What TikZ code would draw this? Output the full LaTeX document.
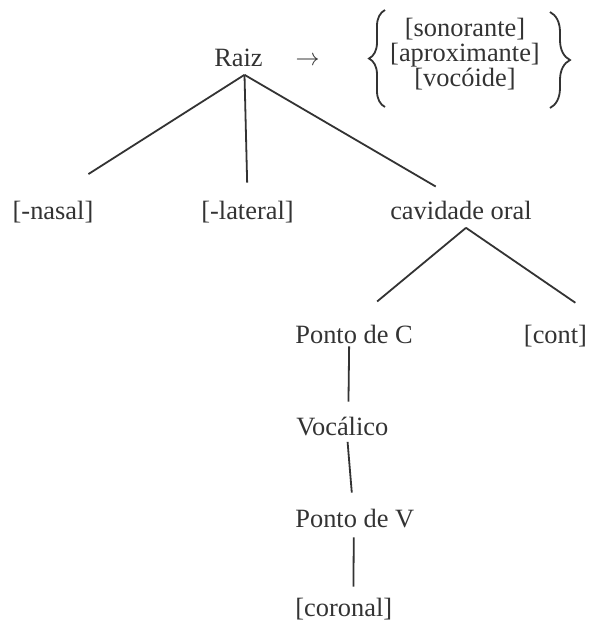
\documentclass[tikz,border=0pt]{standalone}
\usepackage{fontspec}
\setmainfont{Liberation Serif}
\usetikzlibrary{decorations.pathreplacing}
\definecolor{tinta}{HTML}{333333}

\begin{document}
\begin{tikzpicture}[x=0.5pt, y=-0.5pt,
    traco/.style={line width=0.9pt, tinta},
    rotulo/.style={inner xsep=0pt, inner ysep=2pt, text height=9pt, text depth=2.2pt,
      font=\fontsize{13.2}{15}\selectfont, text=tinta}]
  \useasboundingbox (0,0) rectangle (589,623);

  % Raiz e traços
  \node[rotulo, anchor=base] (raiz) at (238.5,66) {Raiz};
  \node[rotulo, anchor=base] (seta) at (307.5,65) {$\rightarrow$};
  \node[align=center, inner sep=0pt, font=\fontsize{13.2}{12.5}\selectfont, text=tinta] (tracos) at (465,54)
    {[sonorante]\\{}[aproximante]\\{}[vocóide]};
  \draw[traco, decorate, decoration={brace, amplitude=8pt}] (385,107) -- (385,10);
  \draw[traco, decorate, decoration={brace, amplitude=10pt}] (550,12) -- (550,108);

  % Nível 2
  \node[rotulo, anchor=base] (nasal) at (53,219) {[-nasal]};
  \node[rotulo, anchor=base] (lateral) at (247.5,219) {[-lateral]};
  \node[rotulo, anchor=base] (cavidade) at (461,219) {cavidade oral};

  % Cavidade oral
  \node[rotulo, anchor=base west] (pontoC) at (295,343) {Ponto de C};
  \node[rotulo, anchor=base] (cont) at (555.5,343) {[cont]};
  \node[rotulo, anchor=base west] (vocalico) at (296,435) {Vocálico};
  \node[rotulo, anchor=base west] (pontoV) at (295,527) {Ponto de V};
  \node[rotulo, anchor=base west] (coronal) at (295,616) {[coronal]};

  % Linhas
  \draw[traco, shorten >=21pt] ([xshift=3pt]raiz.south) -- (nasal.north);
  \draw[traco, shorten >=7pt] ([xshift=3pt]raiz.south) -- (lateral.north);
  \draw[traco, shorten >=10pt] ([xshift=3pt]raiz.south) -- ([xshift=-4pt]cavidade.north);
  \draw[traco, shorten >=15pt] ([xshift=2.5pt]cavidade.south) -- (pontoC.north);
  \draw[traco, shorten >=15.8pt] ([xshift=2.5pt]cavidade.south) -- ([xshift=7pt]cont.north east);
  \draw[traco, shorten <=-2.7pt, shorten >=5.5pt] ([xshift=-2.5pt]pontoC.south) -- ([xshift=3pt]vocalico.north);
  \draw[traco, shorten <=-1pt, shorten >=6pt] ([xshift=2.7pt]vocalico.south) -- ([xshift=-1pt]pontoV.north);
  \draw[traco, shorten <=0.8pt, shorten >=3.5pt] ([xshift=-0.5pt]pontoV.south) -- ([xshift=4.8pt]coronal.north);
\end{tikzpicture}
\end{document}
